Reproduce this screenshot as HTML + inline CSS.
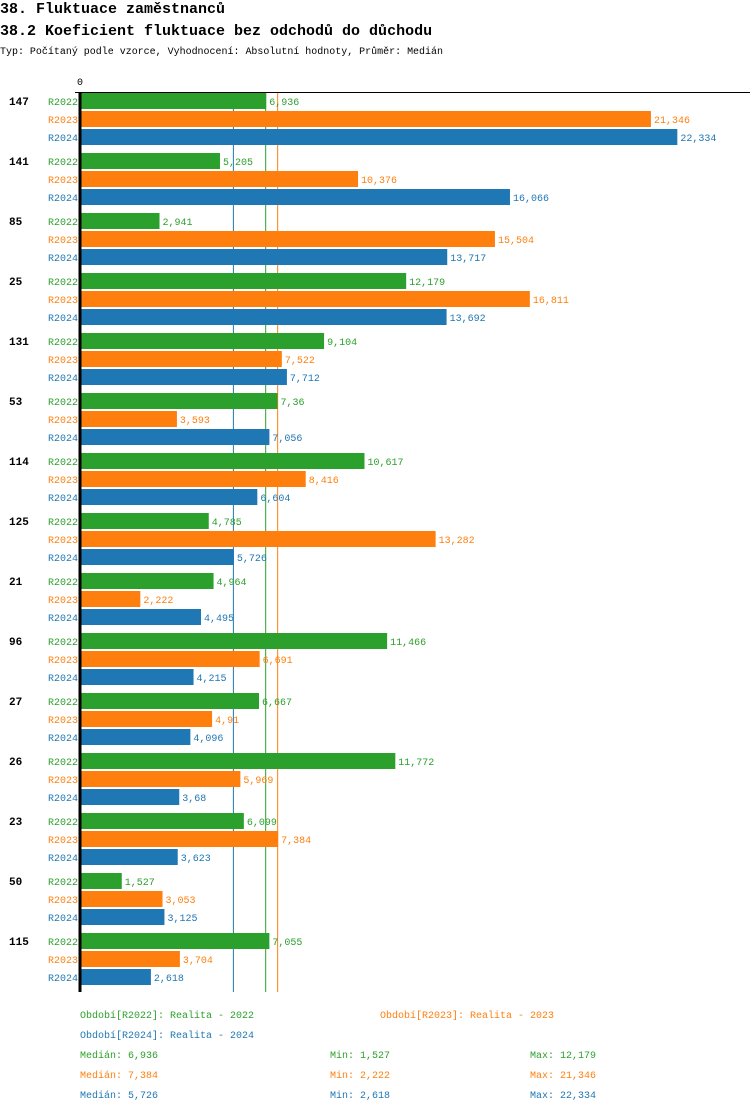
<!DOCTYPE html>
<html><head><meta charset="utf-8"><style>
body{margin:0;background:#fff;width:750px;height:1112px;overflow:hidden;font-family:"Liberation Mono",monospace}
svg text{font-family:"Liberation Mono",monospace}
</style></head><body>
<svg id="c" width="750" height="1112">
<text x="0" y="13" font-size="15" font-weight="bold">38. Fluktuace zaměstnanců</text>
<text x="0" y="35" font-size="15" font-weight="bold">38.2 Koeficient fluktuace bez odchodů do důchodu</text>
<text x="0" y="54" font-size="10" textLength="443" lengthAdjust="spacingAndGlyphs">Typ: Počítaný podle vzorce, Vyhodnocení: Absolutní hodnoty, Průměr: Medián</text>
<text x="77" y="85" font-size="10">0</text>
<line x1="75" y1="92.5" x2="750" y2="92.5" stroke="#000"/>
<g id="medians"></g>
<g id="bars"></g>
<line x1="80" y1="92" x2="80" y2="992" stroke="#000" stroke-width="3"/>
<g id="legend" font-size="10">
<text x="80" y="1018" fill="#2ca02c">Období[R2022]: Realita - 2022</text>
<text x="380" y="1018" fill="#ff7f0e">Období[R2023]: Realita - 2023</text>
<text x="80" y="1038" fill="#1f77b4">Období[R2024]: Realita - 2024</text>
</g>
</svg>
<script>
const categories=["147","141","85","25","131","53","114","125","21","96","27","26","23","50","115"];
const seriesNames=["R2022","R2023","R2024"];
const r2022=[6.936,5.205,2.941,12.179,9.104,7.36,10.617,4.785,4.964,11.466,6.667,11.772,6.099,1.527,7.055];
const r2023=[21.346,10.376,15.504,16.811,7.522,3.593,8.416,13.282,2.222,6.691,4.91,5.969,7.384,3.053,3.704];
const r2024=[22.334,16.066,13.717,13.692,7.712,7.056,6.604,5.726,4.495,4.215,4.096,3.68,3.623,3.125,2.618];
const labels2022=["6,936","5,205","2,941","12,179","9,104","7,36","10,617","4,785","4,964","11,466","6,667","11,772","6,099","1,527","7,055"];
const labels2023=["21,346","10,376","15,504","16,811","7,522","3,593","8,416","13,282","2,222","6,691","4,91","5,969","7,384","3,053","3,704"];
const labels2024=["22,334","16,066","13,717","13,692","7,712","7,056","6,604","5,726","4,495","4,215","4,096","3,68","3,623","3,125","2,618"];
const medians=[6.936,7.384,5.726];
const medianLabels=["6,936","7,384","5,726"];
const mins=["1,527","2,222","2,618"];
const maxs=["12,179","21,346","22,334"];
const colors=["#2ca02c","#ff7f0e","#1f77b4"];
const NS="http://www.w3.org/2000/svg";
const x=v=>81+v*26.7;
const gy=i=>93+i*60;
const g=document.getElementById('bars');
const mg=document.getElementById('medians');
function mk(t,a){const e=document.createElementNS(NS,t);for(const k in a)e.setAttribute(k,a[k]);return e;}
const vals=[r2022,r2023,r2024],labs=[labels2022,labels2023,labels2024];
categories.forEach((c,i)=>{
 const t=mk('text',{x:9,y:gy(i)+12,'font-size':11,'font-weight':'bold'});t.textContent=c;
 
 
 g.appendChild(t);
 for(let s=0;s<3;s++){
  const y=gy(i)+s*18;
  const l=mk('text',{x:48,y:y+12,'font-size':10,fill:colors[s]});l.textContent=seriesNames[s];
  
  
  g.appendChild(l);
  const r=mk('rect',{x:81,y:y,width:x(vals[s][i])-81,height:16,fill:colors[s]});
  
  
  g.appendChild(r);
  const v=mk('text',{x:x(vals[s][i])+3,y:y+12,'font-size':10,fill:colors[s]});v.textContent=labs[s][i];
  
  
  g.appendChild(v);
 }
});
medians.forEach((m,s)=>{
 const l=mk('line',{x1:x(m)-0.5,x2:x(m)-0.5,y1:93,y2:992,stroke:colors[s],'stroke-width':1});
 
 
 mg.appendChild(l);
});
const lg=document.getElementById('legend');
for(let s=0;s<3;s++){
 const y=1058+s*20;
 [[80,"Medián: "+medianLabels[s],'median-stat'],[330,"Min: "+mins[s],'min-stat'],[530,"Max: "+maxs[s],'max-stat']].forEach(([xx,tx,n])=>{
  const t=mk('text',{x:xx,y:y,fill:colors[s]});t.textContent=tx;
  
  
  lg.appendChild(t);
 });
}
</script>
</body></html>
